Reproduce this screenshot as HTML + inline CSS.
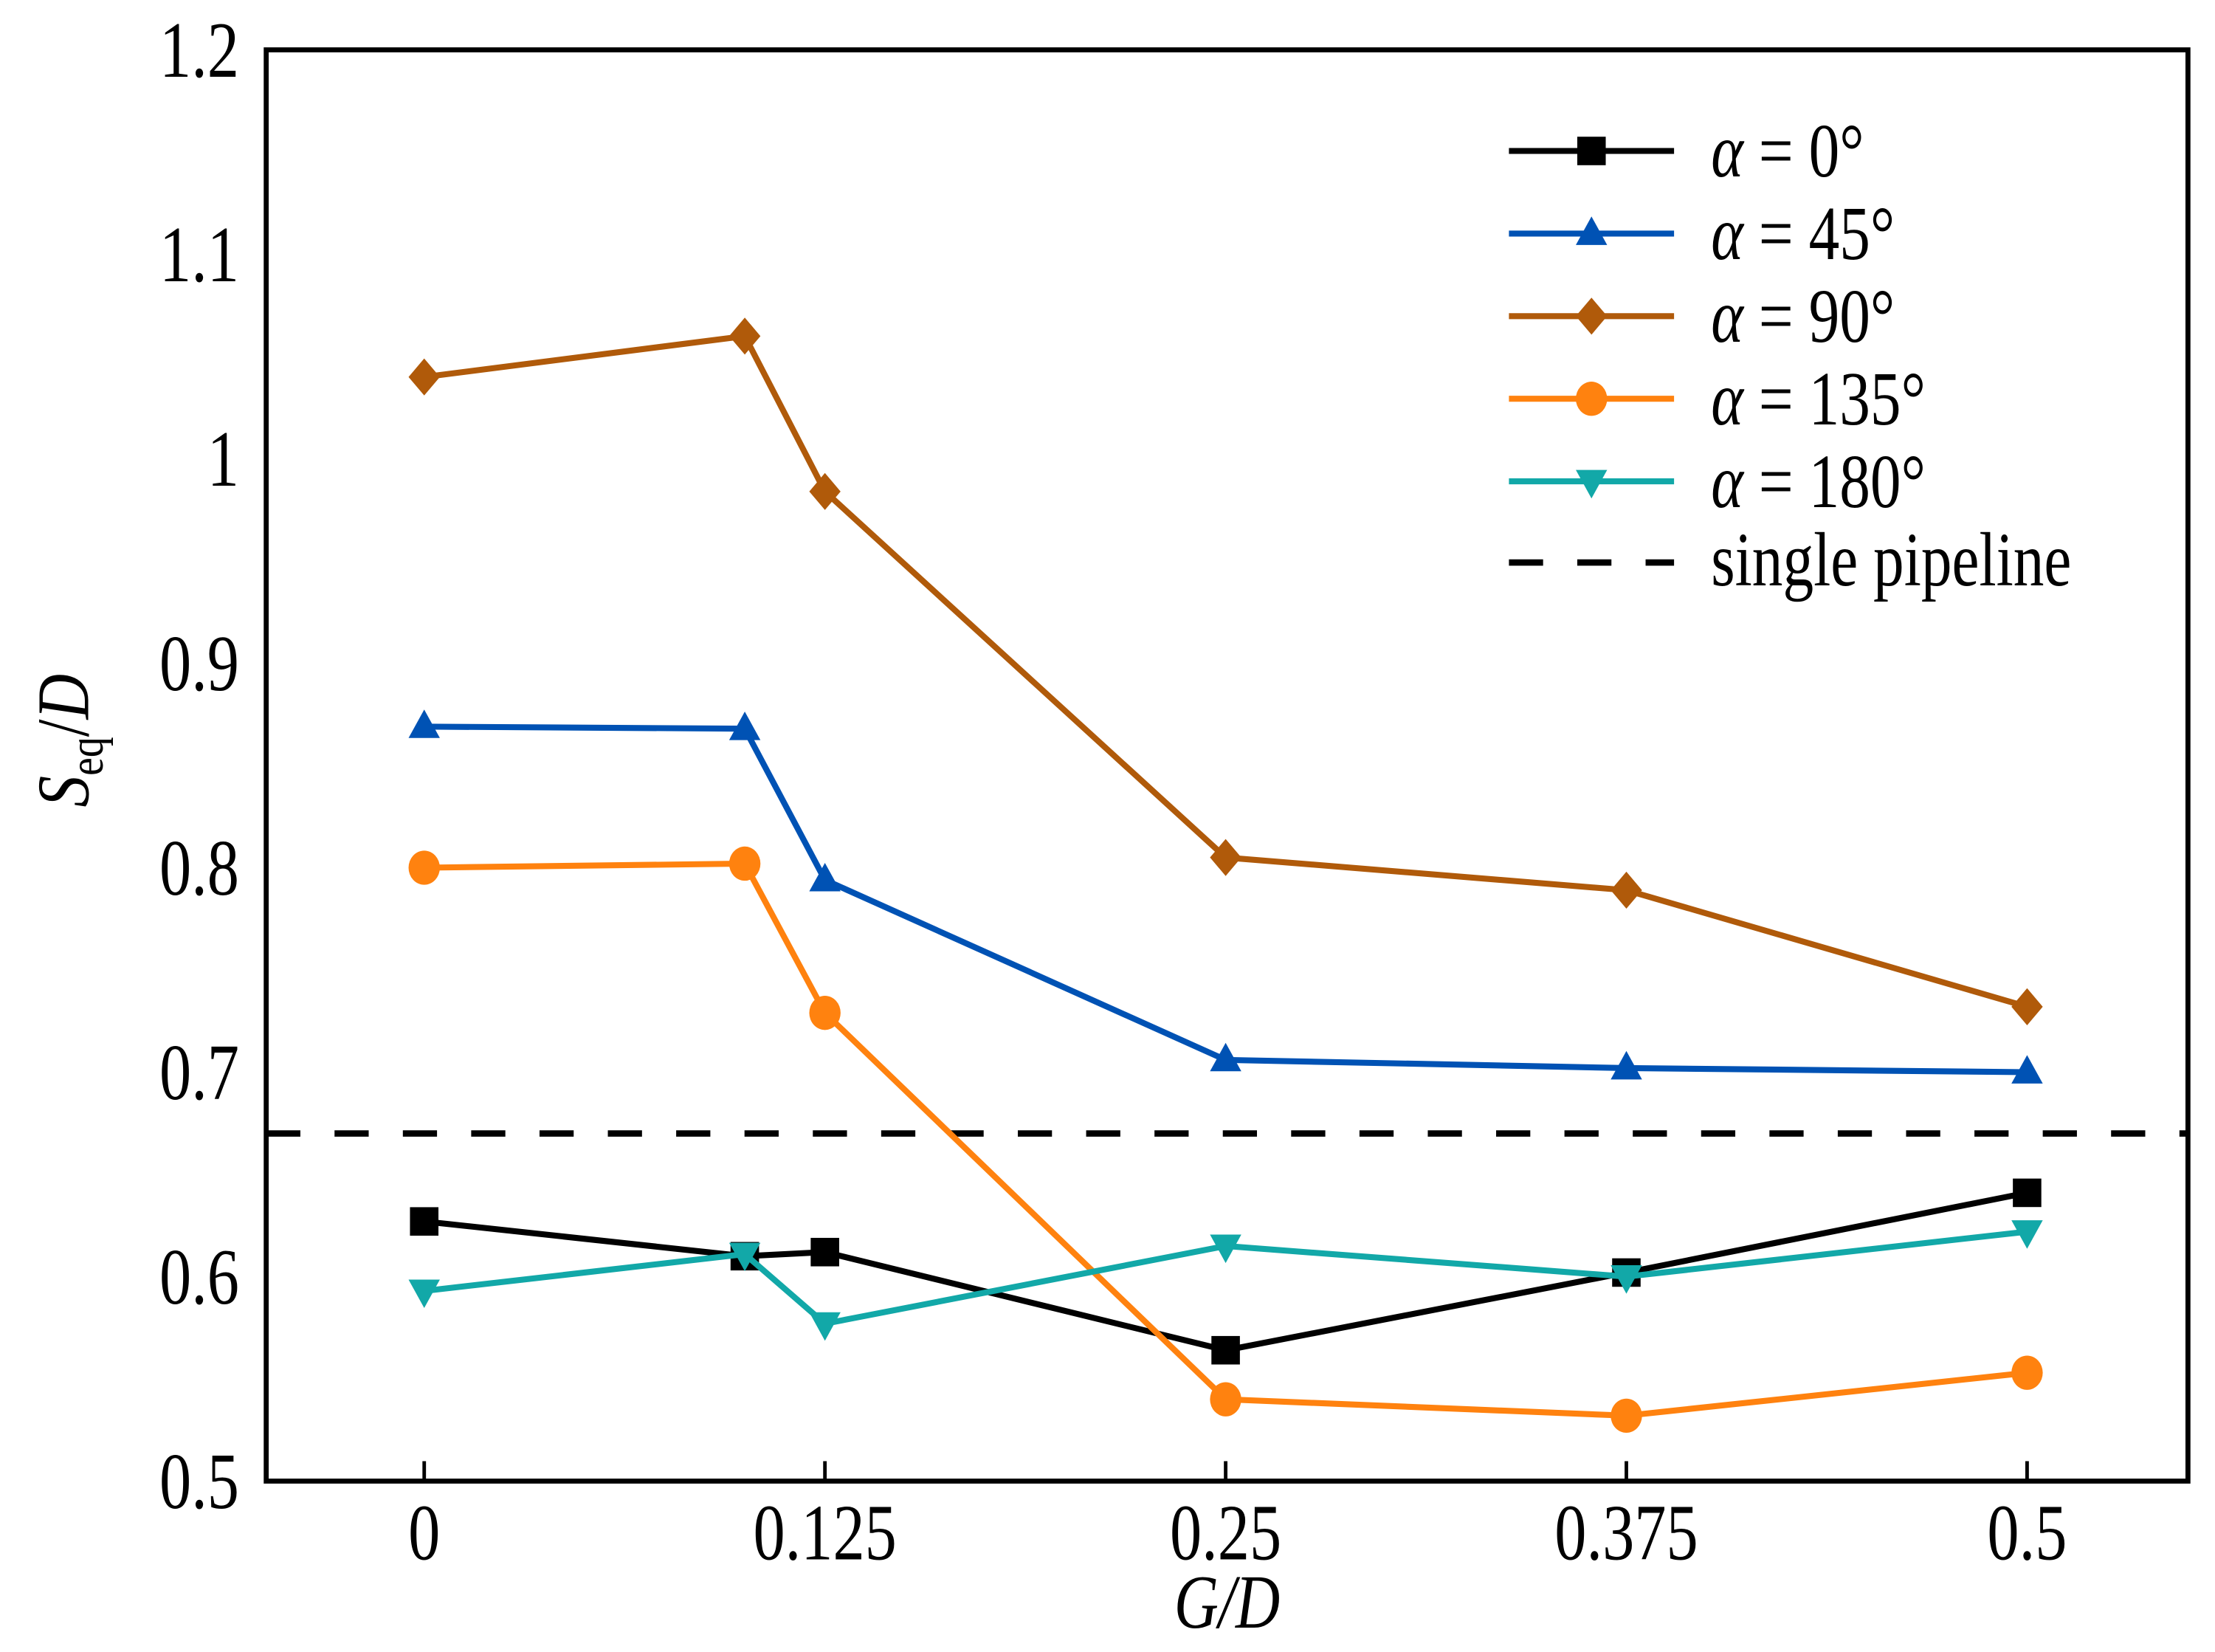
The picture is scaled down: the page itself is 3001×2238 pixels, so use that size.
<!DOCTYPE html>
<html><head><meta charset="utf-8"><style>
html,body{margin:0;padding:0;background:#fff;}
svg{display:block;}
text{font-family:"Liberation Serif",serif;fill:#000;}
</style></head><body>
<svg id="chart" width="3001" height="2238" viewBox="0 0 1556 1160" preserveAspectRatio="none" xmlns="http://www.w3.org/2000/svg">
<g id="plot"></g>
</svg>
<script>
const xCats = [0, 0.1, 0.125, 0.25, 0.375, 0.5];
const xTicks = [0, 0.125, 0.25, 0.375, 0.5];
const xTickLabels = ["0", "0.125", "0.25", "0.375", "0.5"];
const yTicks = [0.5, 0.6, 0.7, 0.8, 0.9, 1.0, 1.1, 1.2];
const yTickLabels = ["0.5", "0.6", "0.7", "0.8", "0.9", "1", "1.1", "1.2"];
const seriesNames = ["α = 0°", "α = 45°", "α = 90°", "α = 135°", "α = 180°"];
const s0 = [0.627, 0.610, 0.612, 0.564, 0.602, 0.641];
const s45 = [0.869, 0.868, 0.794, 0.706, 0.702, 0.700];
const s90 = [1.040, 1.060, 0.984, 0.805, 0.789, 0.732];
const s135 = [0.800, 0.802, 0.729, 0.540, 0.532, 0.553];
const s180 = [0.593, 0.611, 0.577, 0.615, 0.600, 0.622];
const singlePipeline = 0.670;

const NS = "http://www.w3.org/2000/svg";
const L = 187, R = 1537, T = 35, B = 1040;
const SX = 0.8;
const xs = v => 298 + (v - 0) / 0.5 * (1424 - 298);
const ys = v => B - (v - 0.5) / 0.7 * (B - T);
const g = document.getElementById('plot');
function mk(tag, attrs, parent) {
  const e = document.createElementNS(NS, tag);
  for (const k in attrs) e.setAttribute(k, attrs[k]);
  (parent || g).appendChild(e);
  return e;
}
function txt(x, y, anchor, size, parent) {
  return mk('text', {x: x / SX, y: y, 'text-anchor': anchor, 'font-size': size, transform: `scale(${SX},1)`}, parent);
}
const colors = ["#000000", "#0052b4", "#b05a0a", "#ff820f", "#12a8a8"];
const markers = ["square", "tri-up", "diamond", "circle", "tri-down"];
const data = [s0, s45, s90, s135, s180];

function marker(type, x, y, c, name) {
  let e;
  const s = 10;
  if (type === "square") e = mk('rect', {x: x - s, y: y - s, width: 2 * s, height: 2 * s, fill: c});
  else if (type === "circle") e = mk('ellipse', {cx: x, cy: y, rx: 11, ry: 12, fill: c});
  else if (type === "diamond") e = mk('polygon', {points: `${x},${y - 13} ${x + 11},${y} ${x},${y + 13} ${x - 11},${y}`, fill: c});
  else if (type === "tri-up") e = mk('polygon', {points: `${x},${y - 12} ${x + 11},${y + 8} ${x - 11},${y + 8}`, fill: c});
  else e = mk('polygon', {points: `${x - 11},${y - 8} ${x + 11},${y - 8} ${x},${y + 12}`, fill: c});
  
  
  return e;
}

const dl = mk('line', {x1: L, x2: R, y1: ys(singlePipeline), y2: ys(singlePipeline), stroke: '#000', 'stroke-width': 4.5, 'stroke-dasharray': '24 24'});



data.forEach((arr, i) => {
  const pts = arr.map((v, j) => `${xs(xCats[j])},${ys(v)}`).join(' ');
  const pl = mk('polyline', {points: pts, fill: 'none', stroke: colors[i], 'stroke-width': 4.2});
  
  
  arr.forEach((v, j) => marker(markers[i], xs(xCats[j]), ys(v), colors[i], 'point-s' + i + '-' + j));
});

const fr = mk('rect', {x: L, y: T, width: R - L, height: B - T, fill: 'none', stroke: '#000', 'stroke-width': 3.5});



xTicks.forEach((v, i) => {
  const t = mk('line', {x1: xs(v), x2: xs(v), y1: B, y2: B - 14, stroke: '#000', 'stroke-width': 2.5});
  
  
  const tx = txt(xs(v), B + 55, 'middle', 56);
  tx.textContent = xTickLabels[i];
  
  
});
yTicks.forEach((v, i) => {
  const tx = txt(168, ys(v) + 19, 'end', 56);
  tx.textContent = yTickLabels[i];
  
  
});

const xt = txt(862, 1143, 'middle', 54);
xt.setAttribute('font-style', 'italic');
xt.textContent = 'G/D';


const yt = mk('text', {x: 0, y: 0, 'text-anchor': 'middle', 'font-size': 52, transform: 'translate(62,520) rotate(-90) scale(0.85,1)'});
yt.innerHTML = '<tspan font-style="italic">S</tspan><tspan font-size="34" dy="10">eq</tspan><tspan dy="-10">/</tspan><tspan font-style="italic">D</tspan>';



const lg = mk('g', {});


seriesNames.forEach((n, i) => {
  const y = 106 + i * 58;
  const ln = mk('line', {x1: 1060, x2: 1176, y1: y, y2: y, stroke: colors[i], 'stroke-width': 4.2}, lg);
  
  
  const m = marker(markers[i], 1118, y, colors[i], 'legend-marker');
  lg.appendChild(m);
  const t = txt(1202, y + 18, 'start', 54, lg);
  t.innerHTML = '<tspan font-style="italic">α</tspan>' + n.slice(1);
  
  
});
const y6 = 106 + 5 * 58 - 1;
const sl = mk('line', {x1: 1060, x2: 1176, y1: y6, y2: y6, stroke: '#000', 'stroke-width': 4.5, 'stroke-dasharray': '24 24'}, lg);


const st = txt(1202, y6 + 16, 'start', 54, lg);
st.textContent = 'single pipeline';


</script>
</body></html>
